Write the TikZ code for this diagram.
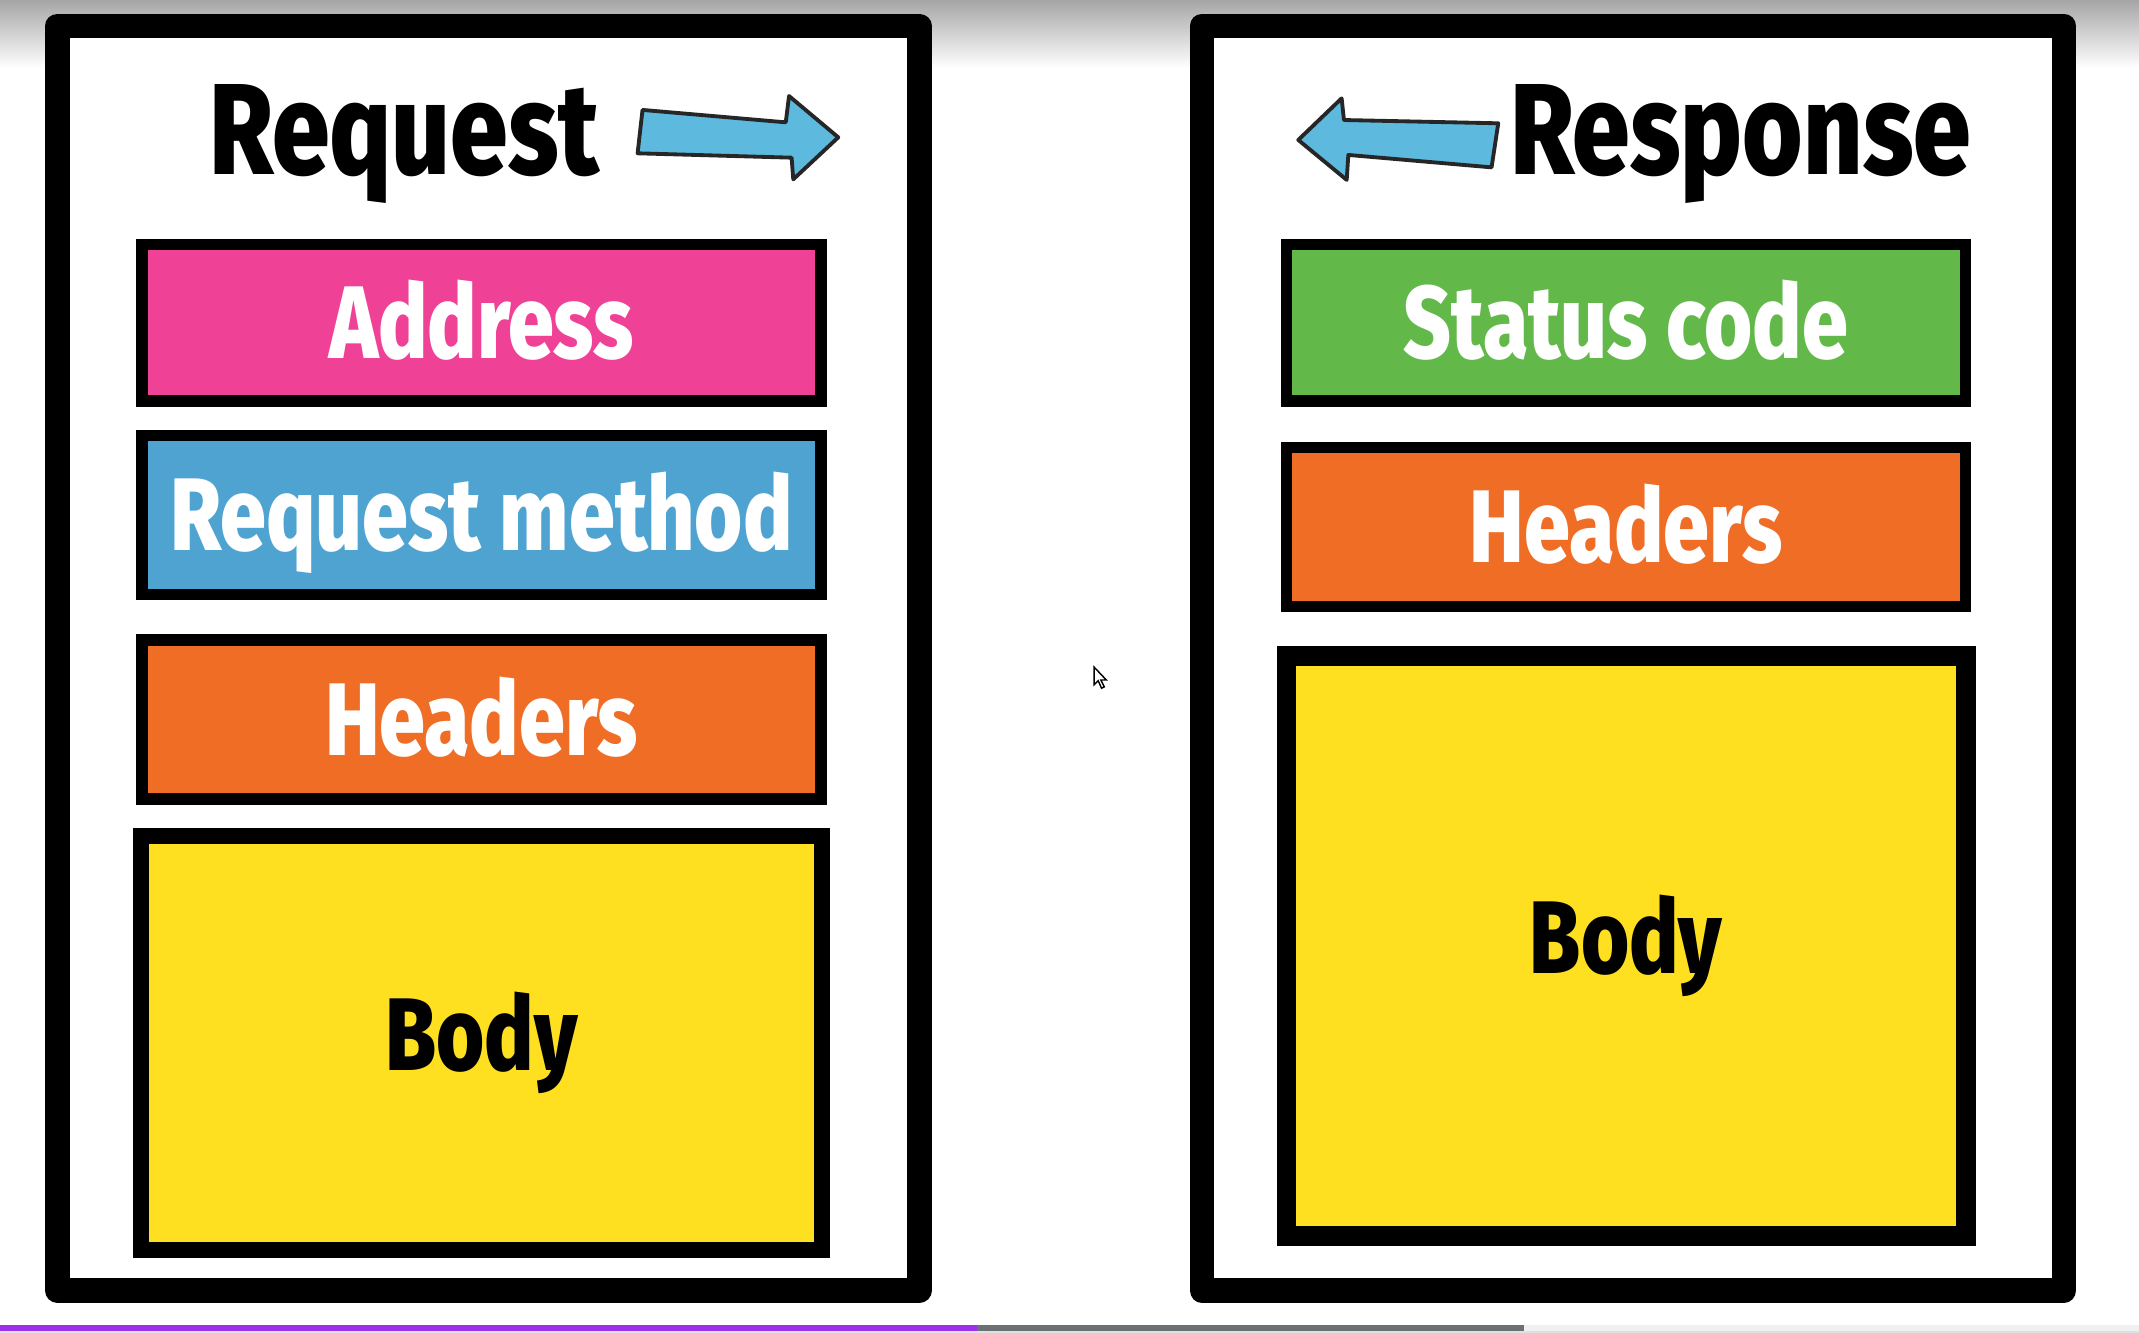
\documentclass[tikz,border=0pt]{standalone}
\usepackage{fontspec}
\newfontfamily\cartoonfont[FakeStretch=0.8, BoldFont={Fira Sans ExtraBold}]{Fira Sans}

\definecolor{addrpink}{RGB}{239,66,151}
\definecolor{methodblue}{RGB}{79,163,209}
\definecolor{headorange}{RGB}{240,109,37}
\definecolor{bodyyellow}{RGB}{254,224,33}
\definecolor{statusgreen}{RGB}{98,185,74}
\definecolor{arrowblue}{RGB}{93,186,222}
\definecolor{barpurple}{RGB}{155,48,232}
\definecolor{bargray}{RGB}{107,112,117}

\begin{document}
\begin{tikzpicture}[x=0.01cm, y=-0.01cm,
  card/.style={draw=black, line width=5.1pt, line join=round, fill=white},
  field/.style={draw=black, line width=2.4pt, minimum width=4.975cm,
    text=white, text height=14.8pt, text depth=0pt,
    font=\cartoonfont\bfseries\fontsize{21.5}{24}\selectfont},
  bodybox/.style={draw=black, line width=3.3pt, fill=bodyyellow,
    font=\cartoonfont\bfseries\fontsize{21.5}{24}\selectfont},
  heading/.style={anchor=base, font=\cartoonfont\bfseries\fontsize{27}{30}\selectfont},
  sidearrow/.style={draw=black!85, line width=0.8pt, line join=round, fill=arrowblue}]

\useasboundingbox (0,0) rectangle (1568,977);
\fill[white] (0,0) rectangle (1568,977);
\shade[top color=black!35, bottom color=white] (0,0) rectangle (1568,50);

% request card
\draw[card] (42,19) rectangle (674,946);
\node[heading] (reqtitle) at (296.5,128) {Request};
\draw[sidearrow] (471,80.6) -- (576,89.7) -- (578.4,70.4) -- (614.5,100.7)
  -- (581.5,131.5) -- (580.3,115.6) -- (467.4,112.4) -- cycle;
\node[field, fill=addrpink, minimum height=1.145cm] (address) at (353,236.5) {Address};
\node[field, fill=methodblue, minimum height=1.165cm] (method) at (353,377.5) {Request method};
\node[field, fill=headorange, minimum height=1.165cm] (reqheaders) at (353,527.5) {Headers};
\node[bodybox, minimum width=4.985cm, minimum height=3.035cm] (reqbody) at (353,764.5) {Body};

% response card
\draw[card] (881,19) rectangle (1513,946);
\node[heading] (restitle) at (1276,128) {Response};
\draw[sidearrow] (951.7,102.6) -- (983.5,72.1) -- (985.2,88) -- (1098.3,90.4)
  -- (1093.4,122.7) -- (988.4,113.6) -- (987.2,131.9) -- cycle;
\node[field, fill=statusgreen, minimum height=1.145cm] (status) at (1192,236.5) {Status code};
\node[field, fill=headorange, minimum height=1.165cm] (resheaders) at (1192,386.5) {Headers};
\node[bodybox, line width=4pt, minimum width=4.98cm, minimum height=4.25cm] (resbody) at (1192,693.5) {Body};

% mouse pointer
\draw[fill=white, line width=0.3pt] (802,489) -- (802,502) -- (805,499) -- (807.5,504.5)
  -- (809.5,503.5) -- (807,498.5) -- (811,498.5) -- cycle;

% progress bar
\fill[black!6] (0,971) rectangle (1568,975.6);
\fill[barpurple] (0,971) rectangle (716,975.6);
\fill[bargray] (716,971) rectangle (1117,975.6);
\fill[black!12] (0,975.6) rectangle (1568,977);
\end{tikzpicture}
\end{document}
